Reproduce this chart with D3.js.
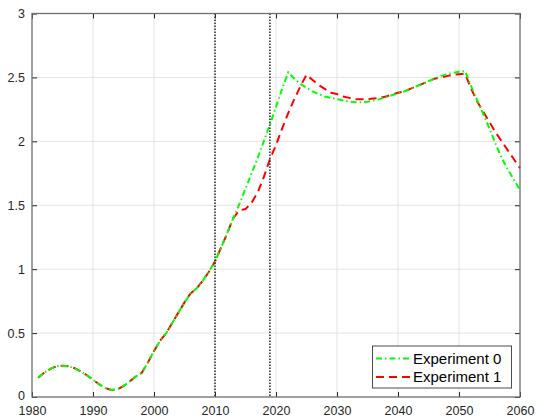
<!DOCTYPE html>
<html>
<head>
<meta charset="utf-8">
<script src="https://cdn.jsdelivr.net/npm/d3@7"></script>
<style>
  html, body { margin: 0; padding: 0; background: #fff; }
  svg { display: block; font-family: "Liberation Sans", Arial, Helvetica, sans-serif; }
</style>
</head>
<body>
<svg id="chart" width="536" height="417"></svg>
<script>
// Years sampled by both experiments
const years = d3.range(1981, 2061);

// Experiment 0 (one value per year, 1981–2060)
const exp0 = [
  0.15, 0.19, 0.22, 0.24, 0.245, 0.24, 0.225, 0.20, 0.17, 0.135,
  0.10, 0.07, 0.055, 0.06, 0.085, 0.12, 0.16, 0.19, 0.27, 0.36,
  0.44, 0.50, 0.58, 0.66, 0.74, 0.81, 0.85, 0.91, 0.98, 1.06,
  1.17, 1.28, 1.40, 1.51, 1.63, 1.75, 1.87, 2.00, 2.13, 2.27,
  2.41, 2.54, 2.49, 2.45, 2.42, 2.39, 2.37, 2.35, 2.34, 2.33,
  2.32, 2.31, 2.305, 2.305, 2.31, 2.32, 2.33, 2.345, 2.36, 2.375,
  2.39, 2.41, 2.43, 2.45, 2.47, 2.49, 2.51, 2.525, 2.535, 2.545,
  2.55, 2.43, 2.32, 2.21, 2.10, 1.98, 1.87, 1.78, 1.70, 1.62
];

// Experiment 1 (one value per year, 1981–2060)
const exp1 = [
  0.15, 0.19, 0.22, 0.24, 0.245, 0.24, 0.225, 0.20, 0.17, 0.135,
  0.10, 0.07, 0.055, 0.06, 0.085, 0.12, 0.16, 0.19, 0.27, 0.36,
  0.44, 0.50, 0.58, 0.66, 0.74, 0.81, 0.85, 0.91, 0.98, 1.06,
  1.17, 1.28, 1.40, 1.46, 1.47, 1.52, 1.60, 1.72, 1.86, 1.97,
  2.10, 2.22, 2.33, 2.43, 2.52, 2.48, 2.44, 2.41, 2.38, 2.37,
  2.35, 2.34, 2.33, 2.33, 2.33, 2.335, 2.34, 2.35, 2.365, 2.38,
  2.39, 2.41, 2.43, 2.45, 2.47, 2.49, 2.50, 2.51, 2.52, 2.525,
  2.53, 2.41, 2.31, 2.23, 2.15, 2.07, 2.00, 1.93, 1.86, 1.79
];

// Vertical markers
const markerYears = [2010, 2019];

// Axis ticks
const xTicks = [1980, 1990, 2000, 2010, 2020, 2030, 2040, 2050, 2060];
const yTicks = [0, 0.5, 1, 1.5, 2, 2.5, 3];
const yTickLabels = ["0", "0.5", "1", "1.5", "2", "2.5", "3"];

const seriesNames = ["Experiment 0", "Experiment 1"];

const svg = d3.select("#chart");
const L = 32, R = 520, T = 13.5, B = 397;

const x = d3.scaleLinear().domain([1980, 2060]).range([L, R]);
const y = d3.scaleLinear().domain([0, 3]).range([B, T]);

// Grid
const grid = svg.append("g");
grid.selectAll(".gx").data(xTicks.slice(1, -1)).join("line")
  .attr("x1", d => x(d)).attr("x2", d => x(d))
  .attr("y1", T).attr("y2", B)
  .attr("stroke", "#e3e3e3").attr("stroke-width", 1);
grid.selectAll(".gy").data(yTicks.slice(1, -1)).join("line")
  .attr("y1", d => y(d)).attr("y2", d => y(d))
  .attr("x1", L).attr("x2", R)
  .attr("stroke", "#e3e3e3").attr("stroke-width", 1);

// Axes (ticks pointing inward, box on all sides)
const tickLen = 5;
const axes = svg.append("g");
const xb = axes.append("g").attr("transform", `translate(0,${B})`)
  .call(d3.axisBottom(x).tickValues(xTicks).tickFormat(d3.format("d")).tickSize(-tickLen).tickPadding(9));
const xt = axes.append("g").attr("transform", `translate(0,${T})`)
  .call(d3.axisTop(x).tickValues(xTicks).tickFormat("").tickSize(-tickLen));
const yl = axes.append("g").attr("transform", `translate(${L},0)`)
  .call(d3.axisLeft(y).tickValues(yTicks).tickFormat((d, i) => yTickLabels[i]).tickSize(-tickLen).tickPadding(7));
const yr = axes.append("g").attr("transform", `translate(${R},0)`)
  .call(d3.axisRight(y).tickValues(yTicks).tickFormat("").tickSize(-tickLen));

[xb, xt, yl, yr].forEach(g => {
  g.select(".domain").remove();
  g.selectAll(".tick line").attr("stroke", "#262626").attr("stroke-width", 1);
  g.selectAll(".tick text").attr("fill", "#262626").attr("font-size", 12.5)
    .attr("font-family", "'Liberation Sans', Arial, sans-serif");
});
// Lift the "0" label slightly so it clears the first year label
yl.selectAll(".tick text").filter(d => d === 0).attr("dy", "0.2em");

// Series lines
const line = d3.line().x((d, i) => x(years[i])).y(d => y(d)).curve(d3.curveLinear);

svg.append("path").datum(exp1)
  .attr("d", line).attr("fill", "none")
  .attr("stroke", "#ff0000").attr("stroke-width", 2)
  .attr("stroke-dasharray", "8,5");

svg.append("path").datum(exp0)
  .attr("d", line).attr("fill", "none")
  .attr("stroke", "#00ff00").attr("stroke-width", 2)
  .attr("stroke-dasharray", "6,3,1.5,3");

// Vertical dotted markers
svg.selectAll(".marker").data(markerYears).join("line")
  .attr("x1", d => x(d)).attr("x2", d => x(d))
  .attr("y1", T).attr("y2", B)
  .attr("stroke", "#333").attr("stroke-width", 1.6)
  .attr("stroke-dasharray", "1.5,1.5");

// Box
svg.append("rect")
  .attr("x", L).attr("y", T).attr("width", R - L).attr("height", B - T)
  .attr("fill", "none").attr("stroke", "#6e6e6e").attr("stroke-width", 1.3);

// Legend
const lg = svg.append("g");
lg.append("rect")
  .attr("x", 372.5).attr("y", 346).attr("width", 139).attr("height", 42)
  .attr("fill", "#fff").attr("stroke", "#4d4d4d").attr("stroke-width", 1);
const legendStyles = [
  { color: "#00ff00", dash: "6,3,1.5,3" },
  { color: "#ff0000", dash: "8,5" }
];
seriesNames.forEach((name, i) => {
  const cy = 358.5 + i * 18.5;
  lg.append("line")
    .attr("x1", 376).attr("x2", 410).attr("y1", cy).attr("y2", cy)
    .attr("stroke", legendStyles[i].color).attr("stroke-width", 2)
    .attr("stroke-dasharray", legendStyles[i].dash);
  lg.append("text")
    .attr("x", 413).attr("y", cy).attr("dy", "0.35em")
    .attr("font-size", 15).attr("fill", "#000")
    .text(name);
});
</script>
</body>
</html>
